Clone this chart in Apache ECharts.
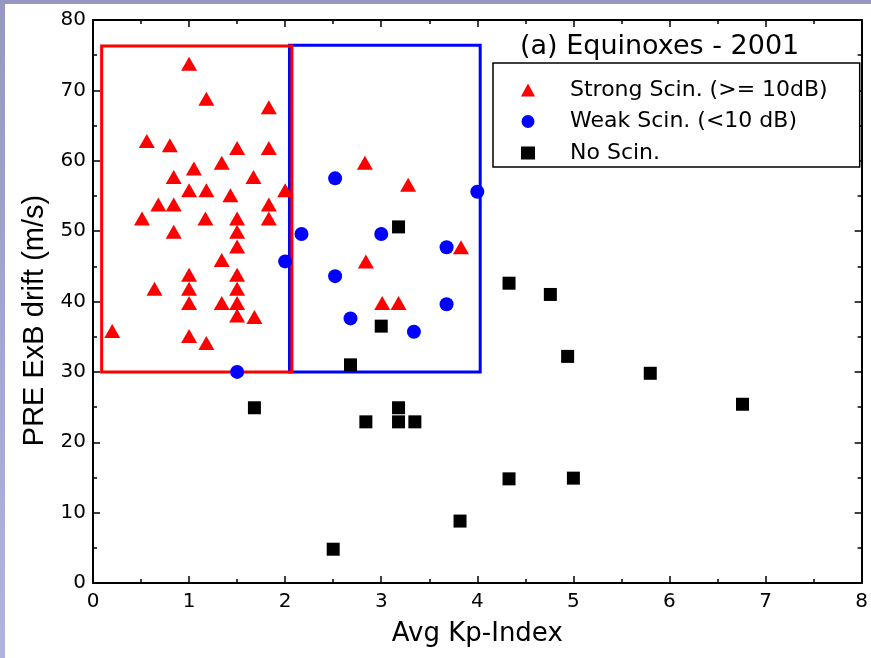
<!DOCTYPE html>
<html>
<head>
<meta charset="utf-8">
<script src="https://cdn.jsdelivr.net/npm/echarts@6/dist/echarts.min.js"></script>
</head>
<body style="margin:0;height:658px;overflow:hidden;background:linear-gradient(#9797c3,#b3b3e3)">
<div id="container" style="position:absolute;left:5px;top:4px;width:866px;height:654px;background:#fff"></div>
<script type="text/javascript">
// Avg Kp-Index vs PRE ExB drift, equinoxes 2001
var strongScin = [
  [0.2, 35.8], [1.0, 73.8], [1.18, 68.8], [1.83, 67.6], [0.56, 62.8], [0.8, 62.2],
  [1.5, 61.8], [1.83, 61.8], [1.34, 59.7], [1.05, 58.9], [0.84, 57.7], [1.67, 57.7],
  [1.0, 55.8], [1.18, 55.8], [1.43, 55.1], [2.0, 55.8], [0.68, 53.8], [0.84, 53.8],
  [1.83, 53.8], [0.51, 51.8], [1.17, 51.8], [1.5, 51.8], [1.83, 51.8], [0.84, 49.9],
  [1.5, 49.9], [1.5, 47.8], [1.34, 45.9], [1.0, 43.8], [1.5, 43.8], [0.64, 41.8],
  [1.0, 41.8], [1.5, 41.8], [1.0, 39.8], [1.34, 39.8], [1.5, 39.8], [1.5, 38.0],
  [1.68, 37.8], [1.0, 35.1], [1.18, 34.1], [2.83, 59.7], [3.28, 56.6], [3.83, 47.7],
  [2.84, 45.7], [3.01, 39.8], [3.18, 39.8]
];
var weakScin = [
  [2.52, 57.5], [4.0, 55.6], [2.17, 49.6], [3.0, 49.6], [3.68, 47.7], [2.0, 45.7],
  [2.52, 43.6], [3.68, 39.6], [2.68, 37.6], [3.34, 35.7], [1.5, 30.0]
];
var noScin = [
  [3.18, 50.6], [3.0, 36.5], [4.33, 42.6], [2.68, 31.0], [1.68, 24.9], [2.84, 22.9],
  [3.18, 24.9], [3.18, 22.9], [3.35, 22.9], [4.33, 14.8], [3.82, 8.8], [2.5, 4.8],
  [4.76, 41.0], [4.94, 32.2], [5.8, 29.8], [6.76, 25.4], [5.0, 14.9]
];
// boxes: [[kpFrom, driftTop], [kpTo, driftBottom]]
var strongBox = [[0.09, 76.3], [2.07, 30.0]];
var weakBox = [[2.045, 76.4], [4.03, 30.0]];
var names = ['Strong Scin. (>= 10dB)', 'Weak Scin. (<10 dB)', 'No Scin.'];

var dom = document.getElementById("container");
var myChart = echarts.init(dom);
var font = 'DejaVu Sans';

function frameAxis(pos, max, interval, show) {
  return {
    type: 'value', position: pos, min: 0, max: max, interval: interval,
    axisLine: { show: true, onZero: false, lineStyle: { color: '#000', width: 2 } },
    axisTick: { show: true, inside: true, length: 7, lineStyle: { color: '#000', width: 1.5 } },
    minorTick: { show: true, splitNumber: 2, length: 4, lineStyle: { color: '#000', width: 1.5 } },
    splitLine: { show: false },
    axisLabel: { show: show, color: '#000', fontFamily: font, fontSize: 20 }
  };
}

var xMain = frameAxis('bottom', 8, 1, true);
xMain.name = 'Avg Kp-Index';
xMain.nameLocation = 'middle';
xMain.nameGap = 38;
xMain.nameTextStyle = { color: '#000', fontFamily: font, fontSize: 26 };
xMain.axisLabel.margin = 9;

var yMain = frameAxis('left', 80, 10, true);
yMain.name = 'PRE ExB drift (m/s)';
yMain.nameLocation = 'middle';
yMain.nameGap = 41;
yMain.nameTextStyle = { color: '#000', fontFamily: 'Liberation Sans', fontSize: 29, padding: [0, 38, 0, 0] };
yMain.axisLabel.margin = 7;

var xTop = frameAxis('top', 8, 1, false);
var yRight = frameAxis('right', 80, 10, false);

function box(name, corners, color, z) {
  return {
    name: name, type: 'scatter', data: [], z: z, silent: true,
    markArea: {
      silent: true,
      itemStyle: { color: 'rgba(0,0,0,0)', borderColor: color, borderWidth: 3 },
      data: [[{ coord: corners[0] }, { coord: corners[1] }]]
    }
  };
}

var option = {
  animation: false,
  grid: { left: 88, top: 16, right: 5, bottom: 75, containLabel: false },
  title: {
    text: '(a) Equinoxes - 2001', left: 515, top: 29, padding: 0,
    textStyle: { fontFamily: font, fontSize: 27, fontWeight: 'normal', color: '#000' }
  },
  legend: {
    orient: 'vertical', left: 488, top: 59,
    padding: [16, 32, 3, 28], itemGap: 9.5, itemWidth: 14, itemHeight: 13,
    backgroundColor: '#fff', borderColor: '#000', borderWidth: 1.5,
    textStyle: { fontFamily: font, fontSize: 22, lineHeight: 22, color: '#000', padding: [0, 0, 0, 30] },
    data: names
  },
  xAxis: [xMain, xTop],
  yAxis: [yMain, yRight],
  series: [
    box('weakBox', weakBox, '#0000ff', 1),
    box('strongBox', strongBox, '#ff0000', 1),
    {
      name: names[0], type: 'scatter', data: strongScin, symbol: 'triangle',
      symbolSize: [16, 14], itemStyle: { color: '#ff0000', opacity: 1 }, z: 5
    },
    {
      name: names[1], type: 'scatter', data: weakScin, symbol: 'circle',
      symbolSize: 14, itemStyle: { color: '#0000ff', opacity: 1 }, z: 5
    },
    {
      name: names[2], type: 'scatter', data: noScin, symbol: 'rect',
      symbolSize: 13, itemStyle: { color: '#000000', opacity: 1 }, z: 5
    }
  ]
};
if (option && typeof option === "object") {
  myChart.setOption(option, true);
}
</script>
</body>
</html>
